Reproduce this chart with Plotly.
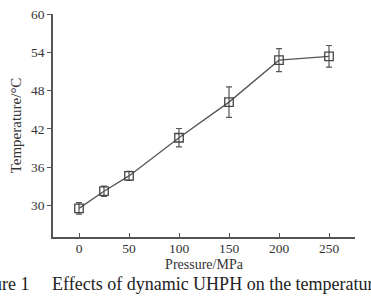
import plotly.graph_objects as go

pressure = [0, 25, 50, 100, 150, 200, 250]
temperature = [29.5, 32.2, 34.6, 40.6, 46.2, 52.8, 53.4]
errors = [0.9, 0.8, 0.7, 1.45, 2.4, 1.8, 1.7]
x_ticks = [0, 50, 100, 150, 200, 250]
y_ticks = [30, 36, 42, 48, 54, 60]

FONT = "Liberation Serif"
GREY = "#555555"

L, R, T, B = 53, 16, 7, 59
PW = 371 - L - R
PH = 296 - T - B


def px_x(p):
    return (p - L) / PW


def px_y(p):
    return (296 - B - p) / PH


fig = go.Figure()
fig.add_trace(go.Scatter(
    x=pressure, y=temperature,
    mode="lines+markers",
    line=dict(color=GREY, width=1.3),
    marker=dict(symbol="square-open", size=8.5, color="#444444", line=dict(width=1.3)),
    error_y=dict(type="data", array=errors, visible=True, color=GREY, thickness=1.2, width=3),
    showlegend=False,
))

fig.update_layout(
    width=371, height=296,
    margin=dict(l=L, r=R, t=T, b=B),
    paper_bgcolor="white", plot_bgcolor="white",
    font=dict(family=FONT, size=13.5, color="#333333"),
    xaxis=dict(
        range=[-26, 276], tickvals=x_ticks, ticks="inside", ticklen=4,
        tickcolor=GREY, showline=True, linecolor=GREY, linewidth=1.5,
        showgrid=False, zeroline=False, ticklabelstandoff=-2,
        title=dict(text="Pressure/MPa", font=dict(size=14), standoff=4),
    ),
    yaxis=dict(
        range=[25, 60.05], tickvals=y_ticks, ticks="outside", ticklen=4,
        tickcolor=GREY, showline=True, linecolor=GREY, linewidth=1.5,
        showgrid=False, zeroline=False,
        title=dict(text="Temperature/°C", font=dict(size=15), standoff=6),
    ),
    annotations=[
        dict(
            text="Figure 1",
            xref="paper", yref="paper", x=px_x(32), y=px_y(285),
            xanchor="right", yanchor="middle", showarrow=False,
            font=dict(family=FONT, size=18, color="#222222"),
        ),
        dict(
            text="Effects of dynamic UHPH on the temperature",
            xref="paper", yref="paper", x=px_x(50), y=px_y(285),
            xanchor="left", yanchor="middle", showarrow=False,
            font=dict(family=FONT, size=18, color="#222222"),
        ),
    ],
)

fig.write_html("out.html")
